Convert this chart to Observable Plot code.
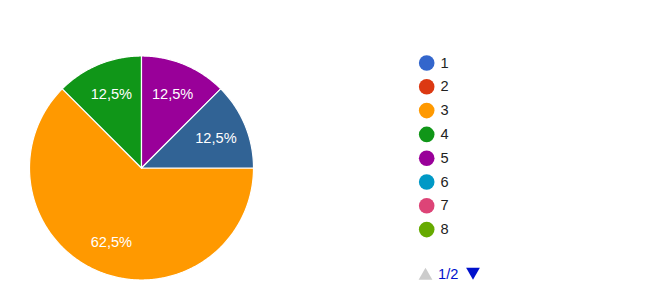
<!DOCTYPE html>
<html>
<head>
<meta charset="utf-8">
<script src="https://cdn.jsdelivr.net/npm/d3@7"></script>
<script src="https://cdn.jsdelivr.net/npm/@observablehq/plot@0.6"></script>
<style>
  html, body { margin: 0; padding: 0; background: #fff; }
  #chart { width: 655px; height: 281px; }
</style>
</head>
<body>
<div id="chart"></div>
<script>
// ---- data ----
const categories = ["1","2","3","4","5","6","7","8","9","10","11","12","13","14","15","16"];
const palette = ["#3366cc","#dc3912","#ff9900","#109618","#990099","#0099c6","#dd4477","#66aa00",
                 "#b82e2e","#316395","#994499","#22aa99","#aaaa11","#6633cc","#e67300","#8b0707"];
const sliceCategories = ["3","4","5","10"];
const sliceValues = [5, 1, 1, 1];
const legendPage = ["1","2","3","4","5","6","7","8"];
const pageLabel = "1/2";

// ---- layout ----
const W = 655, H = 281;
const cx = 141.5, cy = 168, R = 112, labelR = 80;
const startAngle = Math.PI / 2;

const total = d3.sum(sliceValues);
const arcs = d3.pie().sort(null).value(d => d.value)
  .startAngle(startAngle).endAngle(startAngle + 2 * Math.PI)
  (sliceValues.map((v, i) => ({cat: sliceCategories[i], value: v})));

const pt = (a, r) => [cx + r * Math.sin(a), cy - r * Math.cos(a)];

const fan = [];
arcs.forEach((a, i) => {
  const n = Math.max(2, Math.ceil((a.endAngle - a.startAngle) / (Math.PI / 360)));
  for (let k = 0; k <= n; k++) {
    const ang = a.startAngle + (a.endAngle - a.startAngle) * k / n;
    const [x, y] = pt(ang, R);
    fan.push({id: i, cat: a.data.cat, x1: x, y1: y, x2: cx, y2: cy});
  }
});

const labels = arcs.map(a => {
  const mid = (a.startAngle + a.endAngle) / 2;
  const [x, y] = pt(mid, labelR);
  return {x, y, text: (a.data.value / total * 100).toFixed(1).replace(".", ",") + "%"};
});

const legend = legendPage.map((c, i) => ({cat: c, y: 62.5 + i * 23.8}));
const font = "Arial, 'Liberation Sans', sans-serif";

const chart = Plot.plot({
  width: W, height: H,
  marginTop: 0, marginRight: 0, marginBottom: 0, marginLeft: 0,
  style: {fontFamily: font, background: "#fff"},
  x: {type: "linear", domain: [0, W], range: [0, W], axis: null},
  y: {type: "linear", domain: [0, H], range: [0, H], axis: null},
  color: {type: "ordinal", domain: categories, range: palette},
  marks: [
    Plot.area(fan, {x1: "x1", y1: "y1", x2: "x2", y2: "y2", z: "id", fill: "cat", stroke: "white", strokeWidth: 1.2, strokeLinejoin: "round"}),
    Plot.text(labels, {x: "x", y: "y", text: "text", fill: "white", fontSize: 14.6, fontFamily: font}),
    Plot.dot(legend, {x: 426.2, y: "y", r: 7.8, fill: "cat", stroke: null}),
    Plot.text(legend, {x: 440, y: "y", text: "cat", textAnchor: "start", fill: "#222222", fontSize: 14.6, fontFamily: font}),
    Plot.dot([0], {x: 425, y: 275.2, symbol: "triangle", r: 5.1, fill: "#cccccc", stroke: null}),
    Plot.dot([0], {x: 472.5, y: 271.3, symbol: "triangle", r: 5.1, fill: "#0011cc", stroke: null, rotate: 180}),
    Plot.text([pageLabel], {x: 447.7, y: 273.5, text: d => d, fill: "#0011cc", fontSize: 14.6, fontFamily: font})
  ]
});
document.getElementById("chart").appendChild(chart);
</script>
</body>
</html>
